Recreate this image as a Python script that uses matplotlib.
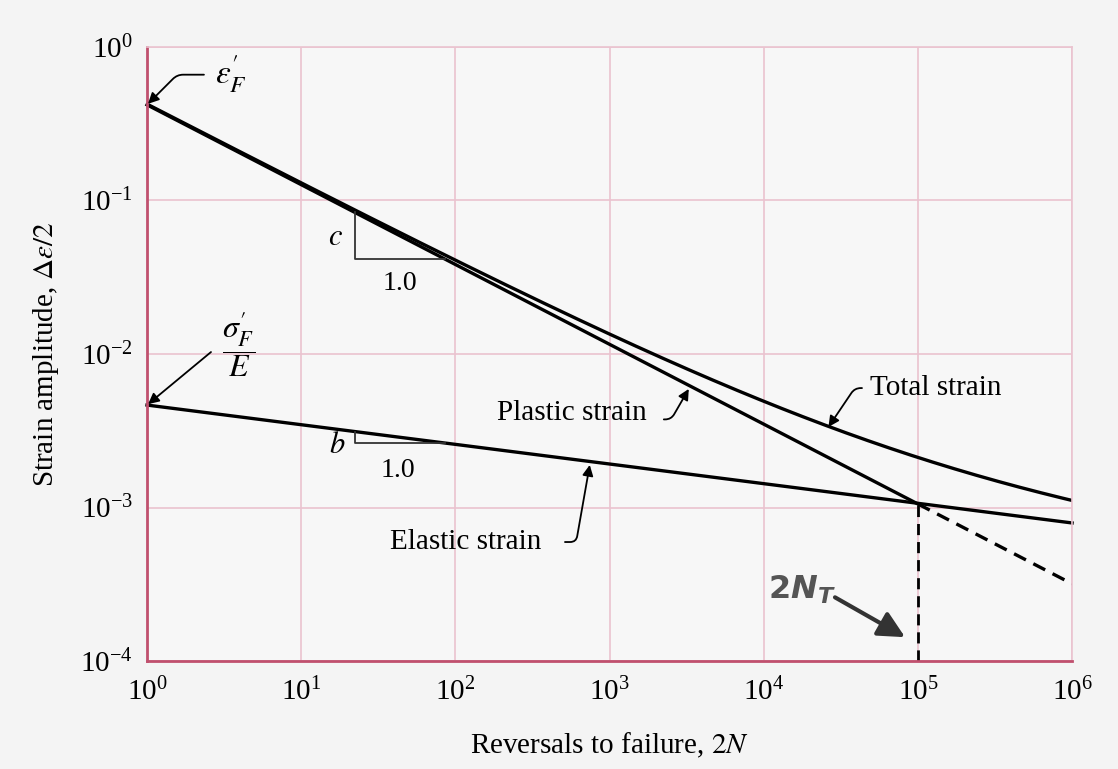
import numpy as np
import matplotlib
matplotlib.use("Agg")
import matplotlib.pyplot as plt

plt.rcParams['font.family'] = ['Liberation Serif', 'DejaVu Serif']
plt.rcParams['mathtext.fontset'] = 'stix'

# Coffin-Manson / Basquin parameters
eps_f = 0.42      # fatigue ductility coefficient
c_exp = -0.52     # fatigue ductility exponent
sig_E = 4.65e-3   # sigma'_F / E
b_exp = -0.128    # fatigue strength exponent
n_t = 1e5         # transition life 2N_T

x_ticks = [1e0, 1e1, 1e2, 1e3, 1e4, 1e5, 1e6]
y_ticks = [1e-4, 1e-3, 1e-2, 1e-1, 1e0]

x_solid = np.logspace(0, 5, 200)
x_dash = np.logspace(5, 6, 50)
x_all = np.logspace(0, 6, 300)


def plastic(x):
    return eps_f * x ** c_exp


def elastic(x):
    return sig_E * x ** b_exp


fig = plt.figure(figsize=(11.18, 7.69), dpi=100, facecolor='#f4f4f4')
ax = fig.add_axes([0.1315, 0.1404, 0.8274, 0.7985])
ax.set_facecolor('#f7f7f7')
ax.set_xscale('log')
ax.set_yscale('log')
ax.set_xticks(x_ticks)
ax.set_yticks(y_ticks)
ax.set_xlim(1, 1e6)
ax.set_ylim(1e-4, 1)

grid_col = '#eac3cf'
ax.grid(True, which='major', color=grid_col, lw=1.2)
ax.minorticks_off()
ax.tick_params(length=0, labelsize=21)
ax.tick_params(axis='x', pad=12)
ax.tick_params(axis='y', pad=10)
for s in ['top', 'right']:
    ax.spines[s].set_color(grid_col)
    ax.spines[s].set_linewidth(1.2)
for s in ['left', 'bottom']:
    ax.spines[s].set_color('#c0506e')
    ax.spines[s].set_linewidth(2)

lw = 2.4
ax.plot(x_solid, plastic(x_solid), color='black', lw=lw, clip_on=False)
ax.plot(x_dash, plastic(x_dash), color='black', lw=lw, ls=(0, (4, 2.5)))
ax.plot(x_all, elastic(x_all), color='black', lw=lw, clip_on=False)
ax.plot(x_all, plastic(x_all) + elastic(x_all), color='black', lw=lw)
ax.plot([n_t, n_t], [1e-4, plastic(n_t)], color='black', lw=2, ls=(0, (4, 2.5)))

# slope triangles
tx1, tx2 = 22.3, 86
ax.plot([tx1, tx1, tx2], [plastic(tx1), plastic(tx2), plastic(tx2)], color='#333333', lw=1.3)
ax.plot([tx1, tx1, tx2], [elastic(tx1), elastic(tx2), elastic(tx2)], color='#333333', lw=1.3)
ax.text(16.6, 0.057, '$c$', fontsize=22, ha='center', va='center')
ax.text(43.8, 0.029, '1.0', fontsize=20, ha='center', va='center')
ax.text(17.1, 2.55e-3, '$b$', fontsize=22, ha='center', va='center')
ax.text(42.4, 1.75e-3, '1.0', fontsize=20, ha='center', va='center')

arrow = dict(arrowstyle='-|>', color='black', lw=1.3, mutation_scale=16, shrinkA=0, shrinkB=1)

# epsilon'_F
ax.annotate('', xy=(1, plastic(1)), xytext=(2.34, 0.66), annotation_clip=False,
            arrowprops=dict(arrow, connectionstyle='angle,angleA=0,angleB=45,rad=6'))
ax.text(2.75, 0.66, r"$\varepsilon^{\prime}_{F}$", fontsize=24, ha='left', va='center')

# sigma'_F / E
ax.annotate('', xy=(1, elastic(1)), xytext=(2.6, 0.0103),
            arrowprops=dict(arrow))
ax.text(3.9, 0.0116, r"$\dfrac{\sigma^{\prime}_{F}}{E}$", fontsize=23, ha='center', va='center')

# Plastic strain
ax.text(186, 4.1e-3, 'Plastic strain', fontsize=21, ha='left', va='center')
ax.annotate('', xy=(3300, plastic(3300) * 0.97), xytext=(2250, 3.75e-3),
            arrowprops=dict(arrow, connectionstyle='angle,angleA=0,angleB=60,rad=6'))

# Total strain
ax.text(4.9e4, 6.0e-3, 'Total strain', fontsize=21, ha='left', va='center')
ax.annotate('', xy=(2.6e4, (plastic(2.6e4) + elastic(2.6e4)) * 0.97), xytext=(4.34e4, 6.0e-3),
            arrowprops=dict(arrow, connectionstyle='angle,angleA=0,angleB=56,rad=6'))

# Elastic strain
ax.text(37.7, 5.96e-4, 'Elastic strain', fontsize=21, ha='left', va='center')
ax.annotate('', xy=(747, elastic(747) * 0.97), xytext=(514, 5.96e-4),
            arrowprops=dict(arrow, connectionstyle='angle,angleA=0,angleB=80,rad=6'))

# 2N_T
ax.text(1.07e4, 2.9e-4, r"$\mathbf{2}\mathbfit{N}_{\mathbfit{T}}$", fontsize=23, color='#555555',
        ha='left', va='center', math_fontfamily='dejavusans')
ax.annotate('', xy=(8.26e4, 1.43e-4), xytext=(2.9e4, 2.6e-4),
            arrowprops=dict(arrowstyle='-|>', color='#333333', lw=3, mutation_scale=40,
                            shrinkA=0, shrinkB=0))

ax.set_xlabel('Reversals to failure, $2N$', fontsize=21, labelpad=18)
ax.set_ylabel(r'Strain amplitude, $\Delta\varepsilon/2$', fontsize=21, labelpad=14)

fig.savefig('out.png', dpi=100, facecolor=fig.get_facecolor())
